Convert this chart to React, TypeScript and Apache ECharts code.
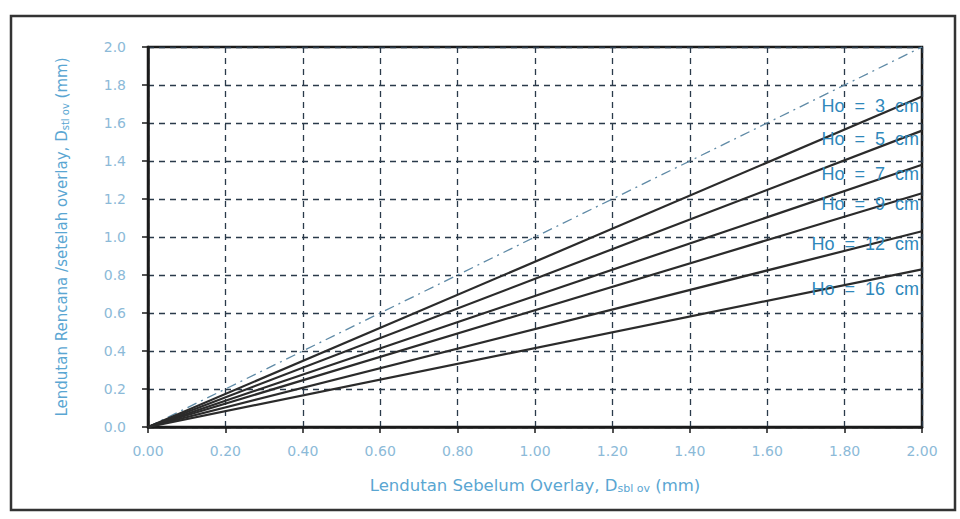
import React, { useEffect, useRef } from "react";
import * as echarts from "echarts";

const xTicks = [0, 0.2, 0.4, 0.6, 0.8, 1.0, 1.2, 1.4, 1.6, 1.8, 2.0];
const seriesNames = ["Ho  =  3  cm", "Ho  =  5  cm", "Ho  =  7  cm", "Ho  =  9  cm", "Ho  =  12  cm", "Ho  =  16  cm"];
const xValues = [0, 2.0];
const ho3 = [0, 1.74];
const ho5 = [0, 1.56];
const ho7 = [0, 1.38];
const ho9 = [0, 1.23];
const ho12 = [0, 1.03];
const ho16 = [0, 0.83];
const equality = [0, 2.0];
const labelY = [107, 140, 175, 205, 245, 290];

const FONT = "Liberation Sans, Arial, sans-serif";
const WIDE = "DejaVu Sans, sans-serif";
const LABEL_BLUE = "#2f88bb";
const TITLE_BLUE = "#5aa6d2";
const TICK_BLUE = "#8cbad8";

export default function App() {
  const ref = useRef<HTMLDivElement>(null);
  useEffect(() => {
    if (!ref.current) return;
    const chart = echarts.init(ref.current, undefined, { renderer: "svg" });
    const all = [ho3, ho5, ho7, ho9, ho12, ho16];
    const lineSeries = all.map((vals, i) => ({
      name: seriesNames[i],
      type: "line",
      data: xValues.map((x, j) => [x, vals[j]]),
      symbol: "none",
      lineStyle: { color: "#2b2b2b", width: 2.2 },
      z: 3,
    }));
    chart.setOption({
      animation: false,
      backgroundColor: "#ffffff",
      grid: {
        left: 148,
        right: 38,
        top: 47,
        bottom: 92,
        show: true,
        borderColor: "#1a1a1a",
        borderWidth: 2.5,
      },
      xAxis: {
        type: "value",
        min: 0,
        max: 2,
        interval: 0.2,
        name: "Lendutan Sebelum Overlay, D{sub|sbl ov} (mm)",
        nameLocation: "middle",
        nameGap: 50,
        nameTextStyle: {
          color: TITLE_BLUE,
          fontSize: 16.5,
          fontFamily: WIDE,
          rich: { sub: { fontSize: 11, color: TITLE_BLUE, fontFamily: WIDE, padding: [6, 0, 0, 0] } },
        },
        axisLine: { show: true, lineStyle: { color: "#1a1a1a", width: 2.5 } },
        axisTick: { show: true, length: 6, lineStyle: { color: "#1a1a1a", width: 1.5 } },
        axisLabel: {
          color: TICK_BLUE,
          fontSize: 14,
          fontFamily: WIDE,
          margin: 17,
          formatter: (v: number) => v.toFixed(2),
        },
        splitLine: { show: true, lineStyle: { color: "#2a3a4a", type: [6, 5], width: 1.3 } },
      },
      yAxis: {
        type: "value",
        min: 0,
        max: 2,
        interval: 0.2,
        name: "Lendutan Rencana /setelah overlay, D{sub|stl ov} (mm)",
        nameLocation: "middle",
        nameGap: 78,
        nameTextStyle: {
          color: TITLE_BLUE,
          fontSize: 15,
          fontFamily: WIDE,
          rich: { sub: { fontSize: 10, color: TITLE_BLUE, fontFamily: WIDE, padding: [6, 0, 0, 0] } },
        },
        axisLine: { show: true, lineStyle: { color: "#1a1a1a", width: 2.5 } },
        axisTick: { show: true, length: 6, lineStyle: { color: "#1a1a1a", width: 1.5 } },
        axisLabel: {
          color: TICK_BLUE,
          fontSize: 14,
          fontFamily: WIDE,
          margin: 22,
          formatter: (v: number) => v.toFixed(1),
        },
        splitLine: { show: true, lineStyle: { color: "#2a3a4a", type: [6, 5], width: 1.3 } },
      },
      series: [
        {
          name: "D = D",
          type: "line",
          data: xValues.map((x, j) => [x, equality[j]]),
          symbol: "none",
          lineStyle: { color: "#5f8aa6", width: 1.3, type: [10, 5, 2, 5] },
          z: 2,
        },
        ...lineSeries,
      ],
      graphic: [
        {
          type: "rect",
          shape: { x: 11, y: 16, width: 944, height: 494 },
          style: { fill: "none", stroke: "#333", lineWidth: 2.5 },
          z: -1,
        },
        ...seriesNames.map((n, i) => ({
          type: "text",
          right: 960 - 919,
          top: labelY[i] - 10,
          z: 10,
          style: {
            text: n,
            fill: LABEL_BLUE,
            fontSize: 18,
            fontFamily: FONT,
          },
        })),
      ],
    });
    return () => chart.dispose();
  }, []);
  return (
    <div
      ref={ref}
      style={{ position: "fixed", left: 0, top: 0, width: 960, height: 519, background: "#fff" }}
    />
  );
}
